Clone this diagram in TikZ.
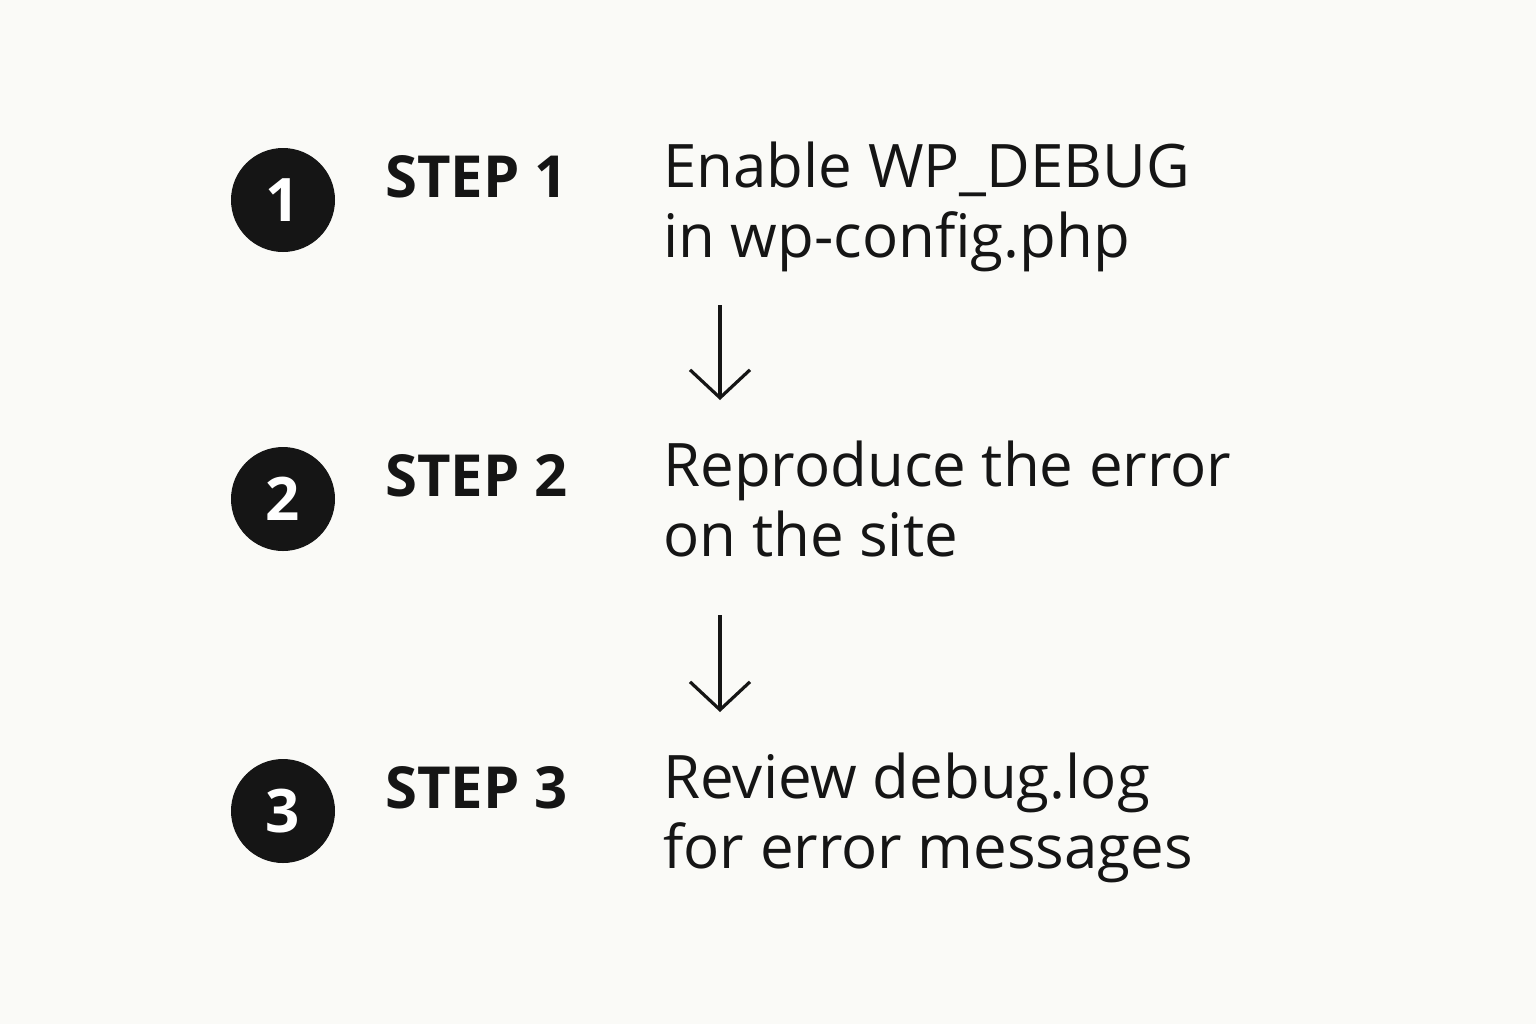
\documentclass[tikz,border=0pt]{standalone}
\usepackage{fontspec}
\setmainfont{Open Sans}
\usetikzlibrary{arrows.meta}
\definecolor{paper}{HTML}{FAFAF7}
\definecolor{ink}{HTML}{151515}
\begin{document}
\begin{tikzpicture}[
    x=0.5pt, y=-0.5pt,
    num/.style={circle, fill=ink, text=white, minimum size=52pt, inner sep=0pt, font=\fontsize{30}{30}\selectfont\bfseries},
    steplbl/.style={anchor=base west, inner sep=0pt, text=ink, font=\fontsize{29}{29}\selectfont\bfseries},
    txt/.style={anchor=base west, inner sep=0pt, text=ink, align=left, font=\fontsize{30}{35}\selectfont},
    arr/.style={draw=ink, line width=1.6pt, -{Straight Barb[length=14pt, width=30pt, line width=1.6pt]}}
  ]
    \fill[paper] (0,0) rectangle (1536,1024);

    % Schritte
    \foreach \i/\y/\t in {1/197/{Enable WP\_DEBUG\\in wp-config.php},
                          2/496/{Reproduce the error\\on the site},
                          3/808/{Review debug.log\\for error messages}} {
      \node[num] (n\i) at (283,{\y+3}) {\i};
      \node[steplbl] (s\i) at (385,\y) {STEP \i};
      \node[txt] (t\i) at (663,{\y+60}) {\t};
    }

    % Pfeile
    \coordinate (a1) at (720,305);
    \coordinate (b1) at (720,400);
    \coordinate (a2) at (720,615);
    \coordinate (b2) at (720,712);
    \draw[arr] (a1) -- (b1);
    \draw[arr] (a2) -- (b2);
  \end{tikzpicture}
\end{document}
